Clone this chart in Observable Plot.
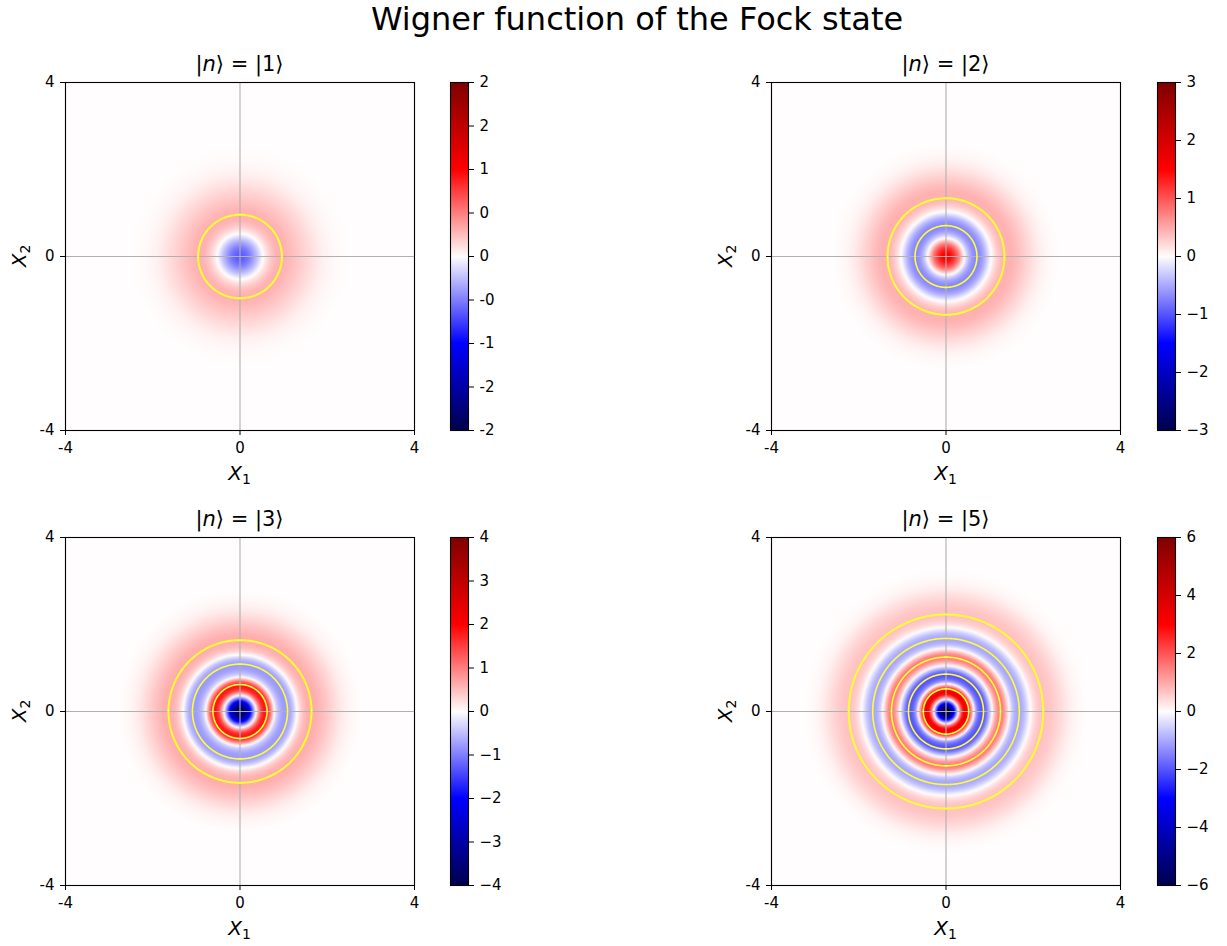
<!DOCTYPE html>
<html>
<head>
<meta charset="utf-8">
<script src="https://cdn.jsdelivr.net/npm/d3@7"></script>
<script src="https://cdn.jsdelivr.net/npm/@observablehq/plot@0.6"></script>
<style>
  body { margin: 0; background: #fff; }
  #fig { position: relative; width: 1227px; height: 946px; font-family: "DejaVu Sans", sans-serif; color: #000; overflow: hidden; }
  .txt { position: absolute; white-space: nowrap; text-align: center; line-height: 1; }
  .sub { font-size: 0.7em; position: relative; top: 0.28em; font-style: normal; }
  svg { position: absolute; overflow: visible; }
</style>
</head>
<body>
<div id="fig"></div>
<script>
// Fock states shown, one per panel, and the symmetric colour limit of each panel
const fockNumbers = [1, 2, 3, 5];
const colorLimits = [2, 3, 4, 6];

// Radial profile W(r) of each state, sampled every 0.1 in r = sqrt(X1² + X2²)
const sampleRadii = [0, 0.1, 0.2, 0.3, 0.4, 0.5, 0.6, 0.7, 0.8, 0.9, 1.0, 1.1, 1.2, 1.3, 1.4, 1.5,
  1.6, 1.7, 1.8, 1.9, 2.0, 2.1, 2.2, 2.3, 2.4, 2.5, 2.6, 2.7, 2.8, 2.9, 3.0, 3.1, 3.2];
const profileN1 = [-0.64, -0.61, -0.52, -0.38, -0.22, -0.04, 0.10, 0.20, 0.27, 0.30, 0.30, 0.28, 0.25,
  0.22, 0.19, 0.16, 0.13, 0.10, 0.075, 0.05, 0.035, 0.022, 0.013, 0.007, 0.003, 0, 0, 0, 0, 0, 0, 0, 0];
const profileN2 = [1.55, 1.45, 1.15, 0.70, 0.12, -0.32, -0.60, -0.70, -0.62, -0.40, -0.09, 0.15, 0.32,
  0.42, 0.45, 0.44, 0.40, 0.34, 0.28, 0.22, 0.16, 0.11, 0.07, 0.04, 0.02, 0.01, 0, 0, 0, 0, 0, 0, 0];
const profileN3 = [-3.9, -3.55, -2.55, -1.0, 0.45, 1.55, 1.80, 1.05, -0.08, -0.55, -0.76, -0.75, -0.50,
  -0.02, 0.35, 0.55, 0.63, 0.63, 0.58, 0.50, 0.42, 0.33, 0.25, 0.17, 0.11, 0.065, 0.035, 0.015, 0, 0, 0, 0, 0];
const profileN5 = [-7.0, -5.6, -2.6, 0.6, 2.9, 3.0, 0.9, -1.2, -1.95, -1.8, -0.7, 0.55, 1.40,
  1.45, 0.55, -0.45, -0.95, -1.0, -0.72, -0.18, 0.30, 0.58, 0.70, 0.70, 0.64, 0.55, 0.44, 0.33, 0.22,
  0.13, 0.07, 0.03, 0.01];
const profiles = [profileN1, profileN2, profileN3, profileN5];

// Radii of the yellow contour rings of each state
const ringsN1 = [0.96];
const ringsN2 = [0.71, 1.34];
const ringsN3 = [0.62, 1.09, 1.64];
const ringsN5 = [0.52, 0.86, 1.25, 1.68, 2.23];
const rings = [ringsN1, ringsN2, ringsN3, ringsN5];

// Axis ticks of the phase-space panels
const axisTicks = [-4, 0, 4];
const axisTickLabels = ["-4", "0", "4"];

// Colour-bar ticks and their printed labels
const cbTicksN1 = [-2, -1.5, -1, -0.5, 0, 0.5, 1, 1.5, 2];
const cbLabelsN1 = ["-2", "-2", "-1", "-0", "0", "0", "1", "2", "2"];
const cbTicksN2 = [-3, -2, -1, 0, 1, 2, 3];
const cbLabelsN2 = ["\u22123", "\u22122", "\u22121", "0", "1", "2", "3"];
const cbTicksN3 = [-4, -3, -2, -1, 0, 1, 2, 3, 4];
const cbLabelsN3 = ["\u22124", "\u22123", "\u22122", "\u22121", "0", "1", "2", "3", "4"];
const cbTicksN5 = [-6, -4, -2, 0, 2, 4, 6];
const cbLabelsN5 = ["\u22126", "\u22124", "\u22122", "0", "2", "4", "6"];
const cbTicks = [cbTicksN1, cbTicksN2, cbTicksN3, cbTicksN5];
const cbLabels = [cbLabelsN1, cbLabelsN2, cbLabelsN3, cbLabelsN5];

// Diverging "seismic" colour stops: navy, blue, white, red, dark red
const seismicStops = ["#00004c", "#0000ff", "#fffdfd", "#ff0000", "#7f0000"];

const fig = document.getElementById("fig");

// Smooth (Catmull-Rom) lookup in a radial profile
function radialValue(values, r) {
  const h = sampleRadii[1] - sampleRadii[0];
  const n = values.length;
  const t = r / h;
  const i = Math.floor(t);
  if (i >= n) return 0;
  const get = k => (k < 0 ? values[-k] : k >= n ? 0 : values[k]);
  const p0 = get(i - 1), p1 = get(i), p2 = get(i + 1), p3 = get(i + 2);
  const u = t - i;
  return 0.5 * (2 * p1 + (-p0 + p2) * u + (2 * p0 - 5 * p1 + 4 * p2 - p3) * u * u +
    (-p0 + 3 * p1 - 3 * p2 + p3) * u * u * u);
}

function ringPoints(radii) {
  const angles = d3.range(0, 360.001, 1);
  return radii.flatMap((R, k) => angles.map(a => ({
    x: R * Math.cos(a * Math.PI / 180), y: R * Math.sin(a * Math.PI / 180), ring: k
  })));
}

function addText(html, cx, top, size, extra = {}) {
  const d = document.createElement("div");
  d.className = "txt";
  d.innerHTML = html;
  d.style.fontSize = size + "px";
  d.style.left = (cx - 150) + "px";
  d.style.width = "300px";
  d.style.top = top + "px";
  Object.assign(d.style, extra);
  fig.appendChild(d);
  return d;
}

const frameW = 349, frameH = 348;
const layout = [
  {left: 65, top: 82, cbLeft: 450},
  {left: 771, top: 82, cbLeft: 1157},
  {left: 65, top: 537, cbLeft: 450},
  {left: 771, top: 537, cbLeft: 1157}
];
const ringColor = "#ffff30";

fockNumbers.forEach((n, i) => {
  const {left, top, cbLeft} = layout[i];
  const v = colorLimits[i];
  const colorScale = {
    type: "linear", domain: [-v, -v / 2, 0, v / 2, v], range: seismicStops,
    interpolate: "rgb", clamp: true
  };
  const prof = profiles[i];
  const rs = rings[i];
  const pts = ringPoints(rs);
  const outer = rs.length - 1;
  const m = {top: 10, right: 10, bottom: 40, left: 50};
  const tickLabel = d => axisTickLabels[axisTicks.indexOf(d)];

  const plot = Plot.plot({
    width: frameW + m.left + m.right,
    height: frameH + m.top + m.bottom,
    marginTop: m.top, marginRight: m.right, marginBottom: m.bottom, marginLeft: m.left,
    style: {fontSize: "15px", fontFamily: "DejaVu Sans", color: "black", background: "transparent"},
    x: {domain: [-4, 4], ticks: axisTicks, tickFormat: tickLabel, label: null, tickSize: 5, tickPadding: 7},
    y: {domain: [-4, 4], ticks: axisTicks, tickFormat: tickLabel, label: null, tickSize: 5, tickPadding: 6},
    color: colorScale,
    marks: [
      Plot.raster({
        fill: (x, y) => radialValue(prof, Math.hypot(x, y)),
        x1: -4, x2: 4, y1: -4, y2: 4, pixelSize: 1
      }),
      Plot.gridX(axisTicks, {stroke: "#b0b0b0", strokeOpacity: 1, strokeWidth: 1.1}),
      Plot.gridY(axisTicks, {stroke: "#b0b0b0", strokeOpacity: 1, strokeWidth: 1.1}),
      Plot.line(pts.filter(p => p.ring !== outer), {x: "x", y: "y", z: "ring", stroke: ringColor, strokeWidth: 1.6}),
      Plot.line(pts.filter(p => p.ring === outer), {x: "x", y: "y", z: "ring", stroke: ringColor, strokeWidth: 2}),
      Plot.frame({stroke: "black", strokeWidth: 1.1})
    ]
  });
  plot.style.left = (left - m.left) + "px";
  plot.style.top = (top - m.top) + "px";
  fig.appendChild(plot);

  // colour bar
  const cbW = 18;
  const cm = {top: 10, right: 45, bottom: 10, left: 2};
  const labelOf = new Map(cbTicks[i].map((t, k) => [t, cbLabels[i][k]]));
  const cb = Plot.plot({
    width: cbW + cm.left + cm.right,
    height: frameH + cm.top + cm.bottom,
    marginTop: cm.top, marginRight: cm.right, marginBottom: cm.bottom, marginLeft: cm.left,
    style: {fontSize: "15px", fontFamily: "DejaVu Sans", color: "black", background: "transparent"},
    x: {domain: [0, 1], axis: null},
    y: {domain: [-v, v], axis: "right", ticks: cbTicks[i], tickFormat: d => labelOf.get(d),
        label: null, tickSize: 5, tickPadding: 6},
    color: colorScale,
    marks: [
      Plot.raster({fill: (x, y) => y, x1: 0, x2: 1, y1: -v, y2: v, pixelSize: 1}),
      Plot.frame({stroke: "black", strokeWidth: 1.1})
    ]
  });
  cb.style.left = (cbLeft - cm.left) + "px";
  cb.style.top = (top - cm.top) + "px";
  fig.appendChild(cb);

  const cx = left + frameW / 2;
  addText(`|<i>n</i>\u27E9 = |${n}\u27E9`, cx, top - 28, 21);
  addText(`<i>X</i><span class="sub">1</span>`, cx, top + frameH + 33, 20);
  addText(`<i>X</i><span class="sub">2</span>`, left - 46, top + frameH / 2 - 10, 20,
    {transform: "rotate(-90deg)"});
});

addText("Wigner function of the Fock state", 637, 3, 32, {width: "700px", left: "287px"});
</script>
</body>
</html>
